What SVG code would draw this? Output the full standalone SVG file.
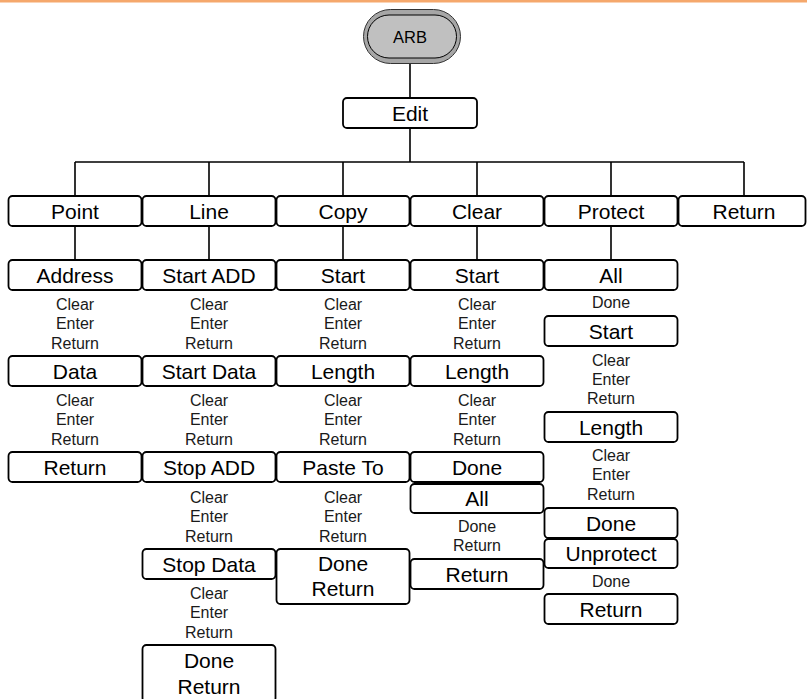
<svg xmlns="http://www.w3.org/2000/svg" width="807" height="699" viewBox="0 0 807 699">
<style>
.b{fill:#fff;stroke:#000;stroke-width:1.8}
.t{font-family:"Liberation Sans",Arial,sans-serif;font-size:21px;text-anchor:middle;fill:#000}
.s{font-family:"Liberation Sans",Arial,sans-serif;font-size:16px;text-anchor:middle;fill:#1a1a1a}
.c{stroke:#000;stroke-width:1.6;fill:none}
</style>
<rect x="0" y="0" width="807" height="2.5" fill="#f5a86c"/>
<g id="connectors" class="c">
<path d="M410 63V98M410 128V162M75 162H744M75 162V196M209 162V196M343 162V196M477 162V196M611 162V196M744 162V196M75 226V260M209 226V260M343 226V260M477 226V260M611 226V260"/>
</g>
<g id="arb">
<rect x="363.5" y="9.5" width="97" height="54" rx="27" fill="#a6a6a6" stroke="#333" stroke-width="1"/>
<rect x="367.5" y="15" width="89" height="43" rx="21.5" fill="#c0c0c0" stroke="#000" stroke-width="1"/>
<text x="410" y="42.7" style="font-family:'Liberation Sans',Arial,sans-serif;font-size:16.5px;text-anchor:middle">ARB</text>
</g>
<g id="edit"><rect class="b" x="343" y="98" width="134" height="30" rx="4"/><text class="t" x="410" y="120.5">Edit</text></g>
<g id="point"><rect class="b" x="8.5" y="196" width="133" height="30" rx="4"/><text class="t" x="75" y="218.5">Point</text></g>
<g id="line"><rect class="b" x="142.5" y="196" width="133" height="30" rx="4"/><text class="t" x="209" y="218.5">Line</text></g>
<g id="copy"><rect class="b" x="276.5" y="196" width="133" height="30" rx="4"/><text class="t" x="343" y="218.5">Copy</text></g>
<g id="clear"><rect class="b" x="410.5" y="196" width="133" height="30" rx="4"/><text class="t" x="477" y="218.5">Clear</text></g>
<g id="protect"><rect class="b" x="544.5" y="196" width="133" height="30" rx="4"/><text class="t" x="611" y="218.5">Protect</text></g>
<g id="return-top"><rect class="b" x="678.5" y="196" width="127" height="30" rx="4"/><text class="t" x="744" y="218.5">Return</text></g>

<g id="point-address"><rect class="b" x="8.5" y="260" width="133" height="30" rx="4"/><text class="t" x="75" y="282.5">Address</text></g>
<g id="point-address-keys"><text class="s" x="75" y="309.7">Clear</text><text class="s" x="75" y="329.2">Enter</text><text class="s" x="75" y="348.7">Return</text></g>
<g id="point-data"><rect class="b" x="8.5" y="356" width="133" height="30" rx="4"/><text class="t" x="75" y="378.5">Data</text></g>
<g id="point-data-keys"><text class="s" x="75" y="405.7">Clear</text><text class="s" x="75" y="425.2">Enter</text><text class="s" x="75" y="444.7">Return</text></g>
<g id="point-return"><rect class="b" x="8.5" y="452" width="133" height="30" rx="4"/><text class="t" x="75" y="474.5">Return</text></g>

<g id="line-startadd"><rect class="b" x="142.5" y="260" width="133" height="30" rx="4"/><text class="t" x="209" y="282.5">Start ADD</text></g>
<g id="line-startadd-keys"><text class="s" x="209" y="309.7">Clear</text><text class="s" x="209" y="329.2">Enter</text><text class="s" x="209" y="348.7">Return</text></g>
<g id="line-startdata"><rect class="b" x="142.5" y="356" width="133" height="30" rx="4"/><text class="t" x="209" y="378.5">Start Data</text></g>
<g id="line-startdata-keys"><text class="s" x="209" y="405.7">Clear</text><text class="s" x="209" y="425.2">Enter</text><text class="s" x="209" y="444.7">Return</text></g>
<g id="line-stopadd"><rect class="b" x="142.5" y="452" width="133" height="30" rx="4"/><text class="t" x="209" y="474.5">Stop ADD</text></g>
<g id="line-stopadd-keys"><text class="s" x="209" y="502.5">Clear</text><text class="s" x="209" y="522">Enter</text><text class="s" x="209" y="541.5">Return</text></g>
<g id="line-stopdata"><rect class="b" x="142.5" y="549" width="133" height="30" rx="4"/><text class="t" x="209" y="571.5">Stop Data</text></g>
<g id="line-stopdata-keys"><text class="s" x="209" y="598.5">Clear</text><text class="s" x="209" y="618">Enter</text><text class="s" x="209" y="637.5">Return</text></g>
<g id="line-done"><rect class="b" x="142.5" y="645" width="133" height="57" rx="4"/><text class="t" x="209" y="667.5">Done</text><text class="t" x="209" y="693.5">Return</text></g>

<g id="copy-start"><rect class="b" x="276.5" y="260" width="133" height="30" rx="4"/><text class="t" x="343" y="282.5">Start</text></g>
<g id="copy-start-keys"><text class="s" x="343" y="309.7">Clear</text><text class="s" x="343" y="329.2">Enter</text><text class="s" x="343" y="348.7">Return</text></g>
<g id="copy-length"><rect class="b" x="276.5" y="356" width="133" height="30" rx="4"/><text class="t" x="343" y="378.5">Length</text></g>
<g id="copy-length-keys"><text class="s" x="343" y="405.7">Clear</text><text class="s" x="343" y="425.2">Enter</text><text class="s" x="343" y="444.7">Return</text></g>
<g id="copy-pasteto"><rect class="b" x="276.5" y="452" width="133" height="30" rx="4"/><text class="t" x="343" y="474.5">Paste To</text></g>
<g id="copy-pasteto-keys"><text class="s" x="343" y="502.5">Clear</text><text class="s" x="343" y="522">Enter</text><text class="s" x="343" y="541.5">Return</text></g>
<g id="copy-done"><rect class="b" x="276.5" y="549" width="133" height="55" rx="4"/><text class="t" x="343" y="571">Done</text><text class="t" x="343" y="596">Return</text></g>

<g id="clear-start"><rect class="b" x="410.5" y="260" width="133" height="30" rx="4"/><text class="t" x="477" y="282.5">Start</text></g>
<g id="clear-start-keys"><text class="s" x="477" y="309.7">Clear</text><text class="s" x="477" y="329.2">Enter</text><text class="s" x="477" y="348.7">Return</text></g>
<g id="clear-length"><rect class="b" x="410.5" y="356" width="133" height="30" rx="4"/><text class="t" x="477" y="378.5">Length</text></g>
<g id="clear-length-keys"><text class="s" x="477" y="405.7">Clear</text><text class="s" x="477" y="425.2">Enter</text><text class="s" x="477" y="444.7">Return</text></g>
<g id="clear-done"><rect class="b" x="410.5" y="452" width="133" height="30" rx="4"/><text class="t" x="477" y="474.5">Done</text></g>
<g id="clear-all"><rect class="b" x="410.5" y="484" width="133" height="29" rx="4"/><text class="t" x="477" y="506">All</text></g>
<g id="clear-all-keys"><text class="s" x="477" y="532.4">Done</text><text class="s" x="477" y="551.4">Return</text></g>
<g id="clear-return"><rect class="b" x="410.5" y="559" width="133" height="30" rx="4"/><text class="t" x="477" y="581.5">Return</text></g>

<g id="protect-all"><rect class="b" x="544.5" y="260" width="133" height="30" rx="4"/><text class="t" x="611" y="282.5">All</text></g>
<g id="protect-all-keys"><text class="s" x="611" y="308.4">Done</text></g>
<g id="protect-start"><rect class="b" x="544.5" y="316" width="133" height="30" rx="4"/><text class="t" x="611" y="338.5">Start</text></g>
<g id="protect-start-keys"><text class="s" x="611" y="365.7">Clear</text><text class="s" x="611" y="384.9">Enter</text><text class="s" x="611" y="404.2">Return</text></g>
<g id="protect-length"><rect class="b" x="544.5" y="412" width="133" height="30" rx="4"/><text class="t" x="611" y="434.5">Length</text></g>
<g id="protect-length-keys"><text class="s" x="611" y="460.7">Clear</text><text class="s" x="611" y="480.4">Enter</text><text class="s" x="611" y="499.7">Return</text></g>
<g id="protect-done"><rect class="b" x="544.5" y="508" width="133" height="30" rx="4"/><text class="t" x="611" y="530.5">Done</text></g>
<g id="protect-unprotect"><rect class="b" x="544.5" y="539" width="133" height="29" rx="4"/><text class="t" x="611" y="561">Unprotect</text></g>
<g id="protect-unprotect-keys"><text class="s" x="611" y="587.4">Done</text></g>
<g id="protect-return"><rect class="b" x="544.5" y="594" width="133" height="30" rx="4"/><text class="t" x="611" y="616.5">Return</text></g>
</svg>
